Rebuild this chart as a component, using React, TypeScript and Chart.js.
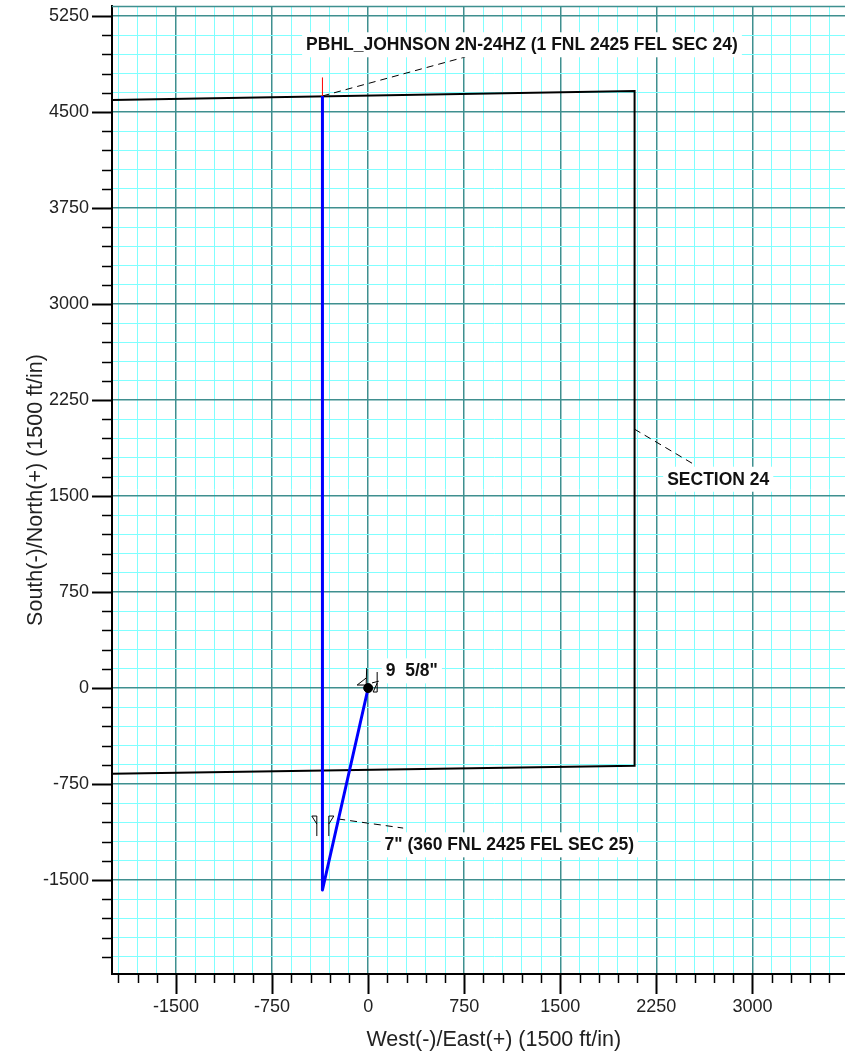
import React, { useEffect, useRef } from 'react';
import { Chart, registerables } from 'chart.js';

Chart.register(...registerables);

// ---- axis data ----
const xTickLabels = [-1500, -750, 0, 750, 1500, 2250, 3000];
const yTickLabels = [-1500, -750, 0, 750, 1500, 2250, 3000, 3750, 4500, 5250];
const xRange = [-2000, 3961];
const yRange = [-2234, 5328];
const minorStep = 150;
const majorStep = 750;
const xTitle = 'West(-)/East(+) (1500 ft/in)';
const yTitle = 'South(-)/North(+) (1500 ft/in)';

// ---- section boundary (SECTION 24) ----
const sectionEW = [-2000, 2080, 2080, -2000];
const sectionNS = [4594, 4664, -607, -670];

// ---- wellbore plan ----
const wellEW = [0, -357, -357];
const wellNS = [0, -1578, 4625];

// ---- PBHL target marker ----
const targetEW = [-357, -357];
const targetNS = [4625, 4770];

// ---- casing points ----
const casingNames = ['9 5/8"', '7"'];
const casingEW = [0, -354];
const casingNS = [0, -1000];

// ---- annotations ----
const labelTexts = [
  'PBHL_JOHNSON 2N-24HZ (1 FNL 2425 FEL SEC 24)',
  'SECTION 24',
  '9  5/8"',
  '7" (360 FNL 2425 FEL SEC 25)',
];
const labelEW = [1201, 2733, 341, 1102];
const labelNS = [5029, 1635, 138, -1221];
const leaderFromEW = [-357, 2078, 30, -234];
const leaderFromNS = [4625, 2023, 40, -1023];
const leaderToEW = [758, 2539, 109, 273];
const leaderToNS = [4930, 1750, 60, -1094];

const MAJOR = '#3f8f8f';
const MINOR = '#80ffff';
const FONT = '"Liberation Sans", Arial, sans-serif';

function buildTickValues(min: number, max: number): number[] {
  const out: number[] = [];
  const start = Math.ceil(min / minorStep) * minorStep;
  for (let v = start; v <= max; v += minorStep) out.push(v);
  return out;
}

const isMajor = (v: number) => Math.abs(v % majorStep) < 1e-6;

const wellPlugin = {
  id: 'wellPlanAnnotations',
  beforeDatasetsDraw(chart: any) {
    const { ctx, chartArea } = chart;
    ctx.save();
    ctx.strokeStyle = MAJOR;
    ctx.lineWidth = 1.5;
    ctx.beginPath();
    ctx.moveTo(chartArea.left, chartArea.top + 0.5);
    ctx.lineTo(chartArea.right, chartArea.top + 0.5);
    ctx.stroke();
    ctx.restore();
  },
  afterDatasetsDraw(chart: any) {
    const { ctx } = chart;
    const xs = chart.scales.x;
    const ys = chart.scales.y;
    ctx.save();
    // casing glyphs
    ctx.strokeStyle = '#000';
    ctx.lineWidth = 1;
    casingNames.forEach((_, i) => {
      const px = xs.getPixelForValue(casingEW[i]);
      const py = ys.getPixelForValue(casingNS[i]);
      ctx.beginPath();
      if (i === 0) {
        ctx.moveTo(px - 1.5, py - 20);
        ctx.lineTo(px - 2, py - 3);
        ctx.lineTo(px - 11, py - 3);
        ctx.lineTo(px - 2, py - 10);
        ctx.moveTo(px + 9, py - 16);
        ctx.lineTo(px + 9, py + 4);
        ctx.lineTo(px + 5, py + 4);
        ctx.lineTo(px + 9, py - 5);
      } else {
        ctx.moveTo(px - 6, py + 20);
        ctx.lineTo(px - 6, py);
        ctx.lineTo(px - 11, py);
        ctx.lineTo(px - 6, py + 8);
        ctx.moveTo(px + 6, py + 20);
        ctx.lineTo(px + 6, py);
        ctx.lineTo(px + 11, py);
        ctx.lineTo(px + 6, py + 8);
      }
      ctx.stroke();
    });
    // labels with white boxes
    ctx.font = `bold 17.5px ${FONT}`;
    ctx.textAlign = 'center';
    ctx.textBaseline = 'middle';
    labelTexts.forEach((t, i) => {
      const px = xs.getPixelForValue(labelEW[i]);
      const py = ys.getPixelForValue(labelNS[i]);
      const w = ctx.measureText(t).width;
      ctx.fillStyle = '#fff';
      ctx.fillRect(px - w / 2 - 4, py - 12, w + 8, 25);
      ctx.fillStyle = '#111';
      ctx.fillText(t, px, py + 1);
    });
    ctx.restore();
  },
  afterDraw(chart: any) {
    const { ctx, chartArea } = chart;
    const xs = chart.scales.x;
    const ys = chart.scales.y;
    ctx.save();
    ctx.strokeStyle = '#000';
    xs.ticks.forEach((t: any) => {
      const p = Math.round(xs.getPixelForValue(t.value)) + 0.5;
      const major = isMajor(t.value);
      ctx.lineWidth = major ? 2 : 1.5;
      ctx.beginPath();
      ctx.moveTo(p, chartArea.bottom);
      ctx.lineTo(p, chartArea.bottom + (major ? 20 : 9));
      ctx.stroke();
    });
    ys.ticks.forEach((t: any) => {
      const p = Math.round(ys.getPixelForValue(t.value)) + 0.5;
      const major = isMajor(t.value);
      ctx.lineWidth = major ? 2 : 1.5;
      ctx.beginPath();
      ctx.moveTo(chartArea.left, p);
      ctx.lineTo(chartArea.left - (major ? 20 : 10), p);
      ctx.stroke();
    });
    ctx.restore();
  },
};

const zeroPadding = (scale: any) => {
  scale.paddingLeft = 0;
  scale.paddingRight = 0;
  scale.paddingTop = 0;
  scale.paddingBottom = 0;
};

export default function App() {
  const ref = useRef<HTMLCanvasElement | null>(null);

  useEffect(() => {
    if (!ref.current) return;
    const toPts = (xs: number[], ys: number[]) => xs.map((x, i) => ({ x, y: ys[i] }));
    const leaders = labelTexts.map((_, i) => ({
      type: 'scatter' as const,
      data: [
        { x: leaderFromEW[i], y: leaderFromNS[i] },
        { x: leaderToEW[i], y: leaderToNS[i] },
      ],
      showLine: true,
      borderColor: '#000',
      borderWidth: 1,
      borderDash: [7, 5],
      pointRadius: 0,
    }));
    const chart = new Chart(ref.current, {
      type: 'scatter',
      data: {
        datasets: [
          {
            data: toPts([casingEW[0]], [casingNS[0]]),
            pointRadius: 4.5,
            pointBackgroundColor: '#000',
            pointBorderColor: '#000',
            showLine: false,
          },
          {
            data: toPts(wellEW, wellNS),
            showLine: true,
            borderColor: '#0000ff',
            borderWidth: 3,
            borderJoinStyle: 'round',
            pointRadius: 0,
          },
          {
            data: toPts(targetEW, targetNS),
            showLine: true,
            borderColor: '#ff0000',
            borderWidth: 1,
            pointRadius: 0,
          },
          {
            data: toPts(sectionEW, sectionNS),
            showLine: true,
            borderColor: '#000',
            borderWidth: 2,
            pointRadius: 0,
          },
          ...leaders,
        ],
      },
      options: {
        animation: false,
        responsive: false,
        devicePixelRatio: 1,
        layout: { padding: { top: 6, left: 0, right: 0, bottom: 0 } },
        plugins: { legend: { display: false }, tooltip: { enabled: false } },
        scales: {
          x: {
            type: 'linear',
            position: 'bottom',
            min: xRange[0],
            max: xRange[1],
            bounds: 'data',
            afterBuildTicks: (s: any) => {
              s.ticks = buildTickValues(xRange[0], xRange[1]).map((v) => ({ value: v }));
            },
            afterFit: (s: any) => {
              s.height = 79;
              zeroPadding(s);
            },
            ticks: {
              autoSkip: false,
              maxRotation: 0,
              padding: 22,
              color: '#222',
              font: { family: FONT, size: 18 },
              callback: (v: any) => (xTickLabels.includes(Number(v)) ? String(v) : ''),
            },
            grid: {
              drawTicks: false,
              color: (c: any) => (c.tick && isMajor(c.tick.value) ? MAJOR : MINOR),
              lineWidth: (c: any) => (c.tick && isMajor(c.tick.value) ? 1.5 : 1),
            },
            border: { display: true, color: '#000', width: 2 },
            title: {
              display: true,
              text: xTitle,
              color: '#222',
              font: { family: FONT, size: 21.5 },
              padding: { top: 0, bottom: 0 },
            },
          },
          y: {
            type: 'linear',
            position: 'left',
            min: yRange[0],
            max: yRange[1],
            bounds: 'data',
            afterBuildTicks: (s: any) => {
              s.ticks = buildTickValues(yRange[0], yRange[1]).map((v) => ({ value: v }));
            },
            afterFit: (s: any) => {
              s.width = 112;
              zeroPadding(s);
            },
            ticks: {
              autoSkip: false,
              padding: 23,
              color: '#222',
              font: { family: FONT, size: 18 },
              callback: (v: any) => (yTickLabels.includes(Number(v)) ? String(v) : ''),
            },
            grid: {
              drawTicks: false,
              color: (c: any) => (c.tick && isMajor(c.tick.value) ? MAJOR : MINOR),
              lineWidth: (c: any) => (c.tick && isMajor(c.tick.value) ? 1.5 : 1),
            },
            border: { display: true, color: '#000', width: 2 },
            title: {
              display: true,
              text: yTitle,
              color: '#222',
              font: { family: FONT, size: 21.5 },
              padding: { top: 23, bottom: 0 },
            },
          },
        },
      },
      plugins: [wellPlugin],
    });
    return () => chart.destroy();
  }, []);

  return (
    <div
      style={{
        position: 'fixed',
        left: 0,
        top: 0,
        width: 845,
        height: 1053,
        overflow: 'hidden',
        background: '#fff',
      }}
    >
      <canvas ref={ref} width={881} height={1053} style={{ display: 'block', width: 881, height: 1053 }} />
    </div>
  );
}
